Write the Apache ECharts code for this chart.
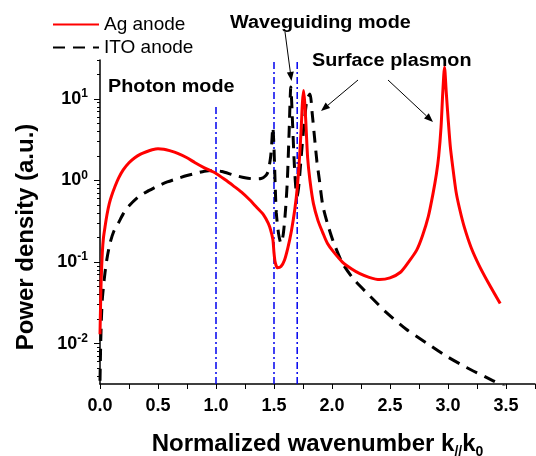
<!DOCTYPE html>
<html>
<head>
<meta charset="utf-8">
<script src="https://cdn.jsdelivr.net/npm/echarts@6/dist/echarts.min.js"></script>
<style>html,body{margin:0;padding:0;background:#fff;}#c{width:536px;height:456px;}</style>
</head>
<body>
<div id="c"></div>
<script>
// ---- data ----
const seriesNames = ['Ag anode', 'ITO anode'];
const kAg = [0, 0.005, 0.01, 0.02, 0.03, 0.045, 0.06, 0.08, 0.1, 0.13, 0.16, 0.2, 0.25, 0.3, 0.35, 0.4, 0.45, 0.5, 0.55, 0.6, 0.67, 0.75, 0.82, 0.9, 1.0, 1.08, 1.15, 1.22, 1.29, 1.35, 1.41, 1.45, 1.47, 1.49, 1.5, 1.51, 1.53, 1.56, 1.59, 1.62, 1.65, 1.68, 1.7, 1.72, 1.735, 1.745, 1.755, 1.765, 1.775, 1.79, 1.81, 1.84, 1.88, 1.92, 1.96, 2.01, 2.09, 2.17, 2.24, 2.32, 2.41, 2.5, 2.59, 2.66, 2.73, 2.78, 2.83, 2.87, 2.9, 2.92, 2.94, 2.955, 2.97, 2.985, 3.0, 3.02, 3.04, 3.07, 3.1, 3.14, 3.2, 3.27, 3.35, 3.45];
const pAg = [0.013, 0.03, 0.06, 0.13, 0.2, 0.28, 0.38, 0.52, 0.65, 0.85, 1.07, 1.35, 1.65, 1.9, 2.1, 2.25, 2.38, 2.45, 2.42, 2.32, 2.15, 1.9, 1.65, 1.43, 1.22, 1.02, 0.86, 0.72, 0.58, 0.47, 0.38, 0.3, 0.25, 0.19, 0.13, 0.1, 0.085, 0.088, 0.105, 0.15, 0.24, 0.45, 0.8, 1.9, 4.5, 9, 12.7, 9, 5, 1.9, 1.0, 0.52, 0.32, 0.23, 0.17, 0.135, 0.1, 0.082, 0.072, 0.065, 0.061, 0.064, 0.075, 0.1, 0.14, 0.21, 0.36, 0.68, 1.2, 2.0, 4.5, 12, 24.5, 12, 6, 2.6, 1.5, 0.72, 0.45, 0.27, 0.15, 0.09, 0.055, 0.031];
const kITO = [0, 0.003, 0.006, 0.012, 0.02, 0.03, 0.043, 0.06, 0.086, 0.12, 0.158, 0.2, 0.245, 0.33, 0.42, 0.5, 0.58, 0.67, 0.75, 0.82, 0.9, 0.96, 1.05, 1.15, 1.25, 1.32, 1.39, 1.43, 1.45, 1.47, 1.48, 1.49, 1.5, 1.51, 1.52, 1.54, 1.56, 1.58, 1.6, 1.615, 1.63, 1.645, 1.66, 1.675, 1.69, 1.7, 1.715, 1.735, 1.76, 1.785, 1.81, 1.83, 1.85, 1.87, 1.89, 1.92, 1.96, 2.01, 2.09, 2.19, 2.33, 2.47, 2.64, 2.81, 2.98, 3.16, 3.39, 3.5];
const pITO = [0.0035, 0.006, 0.01, 0.02, 0.035, 0.05, 0.074, 0.11, 0.17, 0.24, 0.3, 0.39, 0.48, 0.63, 0.75, 0.86, 0.96, 1.06, 1.15, 1.22, 1.3, 1.33, 1.29, 1.17, 1.08, 1.05, 1.06, 1.15, 1.3, 1.9, 2.8, 4.5, 2.5, 0.9, 0.4, 0.22, 0.17, 0.22, 0.45, 1.0, 3.8, 14, 5, 1.6, 0.75, 0.65, 0.9, 2.0, 5, 10, 11.5, 6.5, 3.3, 1.7, 1.05, 0.5, 0.3, 0.18, 0.097, 0.061, 0.038, 0.024, 0.015, 0.0103, 0.0071, 0.0051, 0.0035, 0.0029];
const modeK = [1.0, 1.5, 1.7];
const modeTop = [8, 30, 30];
const yDecades = [-2, -1, 0, 1];
const xMin = 0, xMax = 3.75, xStep = 0.25;
const yMinVal = 0.0032, yMaxVal = 30;

// ---- build ----
const L = Math.log10;
const yMin = L(yMinVal), yMax = L(yMaxVal);
const minorTicks = [];
for (let n = -3; n <= 1; n++) for (let m = 2; m <= 9; m++) {
  const v = L(m * Math.pow(10, n));
  if (v >= yMin && v <= yMax) minorTicks.push(v);
}
const FONT = '"Liberation Sans", Arial, sans-serif';

const series = [
  { name: seriesNames[0], type: 'line', data: kAg.map((k, i) => [k, L(pAg[i])]), symbol: 'none', smooth: 0.25,
    lineStyle: { color: '#ff0000', width: 3 }, itemStyle: { color: '#ff0000' }, z: 5 },
  { name: seriesNames[1], type: 'line', data: kITO.map((k, i) => [k, L(pITO[i])]), symbol: 'none', smooth: 0.25,
    lineStyle: { color: '#000', width: 3, type: [12, 8] }, itemStyle: { color: '#000' }, z: 4 }
];
modeK.forEach((k, i) => {
  series.push({ type: 'line', data: [[k, yMin], [k, L(modeTop[i])]], symbol: 'none', silent: true,
    lineStyle: { color: '#0000ee', width: 1.5, type: [7, 3, 2, 3] }, z: 3 });
});

function arrow(x1, y1, x2, y2) {
  const a = Math.atan2(y2 - y1, x2 - x1), len = 9, w = 3.5;
  const bx = x2 - len * Math.cos(a), by = y2 - len * Math.sin(a);
  return [
    { type: 'line', shape: { x1, y1, x2: bx, y2: by }, style: { stroke: '#000', lineWidth: 1 } },
    { type: 'polygon', shape: { points: [[x2, y2], [bx + w * Math.sin(a), by - w * Math.cos(a)], [bx - w * Math.sin(a), by + w * Math.cos(a)]] }, style: { fill: '#000' } }
  ];
}
function label(text, x, y) {
  return { type: 'text', x, y, scaleX: 1.1, style: { text, font: 'bold 18px ' + FONT, fill: '#000', verticalAlign: 'middle', align: 'left' } };
}

const chart = echarts.init(document.getElementById('c'), null, { renderer: 'canvas' });
chart.setOption({
  backgroundColor: '#fff',
  animation: false,
  textStyle: { fontFamily: FONT },
  grid: { left: 100, right: 1, top: 60, bottom: 72, outerBoundsMode: 'none', containLabel: false },
  legend: {
    data: seriesNames, orient: 'vertical', left: 47, top: 10, itemWidth: 46, itemHeight: 14, itemGap: 4,
    itemStyle: { opacity: 0 },
    textStyle: { fontSize: 19, color: '#000', fontFamily: FONT }
  },
  xAxis: {
    type: 'value', min: xMin, max: xMax, interval: xStep,
    axisLine: { onZero: false, lineStyle: { color: '#000', width: 1.5 } },
    axisTick: { show: true, length: 5, lineStyle: { color: '#000', width: 1 } },
    splitLine: { show: false },
    axisLabel: {
      color: '#000', fontSize: 18, fontWeight: 'bold', margin: 13,
      formatter: v => (Math.abs(v / 0.5 - Math.round(v / 0.5)) < 1e-6 && v <= 3.5) ? v.toFixed(1) : ''
    },
    name: 'Normalized wavenumber k{sub|//}k{sub|0}', nameLocation: 'middle', nameGap: 45,
    nameTextStyle: { fontSize: 24, fontWeight: 'bold', color: '#000', lineHeight: 30,
      rich: { sub: { fontSize: 14, fontWeight: 'bold', verticalAlign: 'bottom', lineHeight: 14, fontFamily: FONT } } }
  },
  yAxis: [{
    type: 'value', min: yMin, max: yMax,
    axisLine: { show: true, onZero: false, lineStyle: { color: '#000', width: 1.5 } },
    axisTick: { show: true, length: 6, customValues: yDecades, lineStyle: { color: '#000', width: 1 } },
    splitLine: { show: false },
    axisLabel: {
      customValues: yDecades, margin: 12, color: '#000',
      formatter: v => '{b|10}{s|' + Math.round(v) + '}',
      rich: {
        b: { fontSize: 18, fontWeight: 'bold', color: '#000', lineHeight: 22, fontFamily: FONT },
        s: { fontSize: 12, fontWeight: 'bold', color: '#000', verticalAlign: 'top', lineHeight: 12, fontFamily: FONT }
      }
    },
    name: 'Power density (a.u.)', nameLocation: 'middle', nameGap: 62,
    nameTextStyle: { fontSize: 24, fontWeight: 'bold', color: '#000', padding: [0, 30, 0, 0] }
  }, {
    type: 'value', min: yMin, max: yMax, position: 'left',
    axisLine: { show: false, onZero: false }, axisLabel: { show: false }, splitLine: { show: false },
    axisTick: { show: true, length: 3, customValues: minorTicks, lineStyle: { color: '#000', width: 1 } }
  }],
  series,
  graphic: [
    label('Photon mode', 108, 87),
    label('Waveguiding mode', 230, 23),
    label('Surface plasmon', 312, 61),
    ...arrow(285, 32, 291.5, 81),
    ...arrow(358, 80, 321, 111),
    ...arrow(388, 80, 433, 122)
  ]
});
</script>
</body>
</html>
